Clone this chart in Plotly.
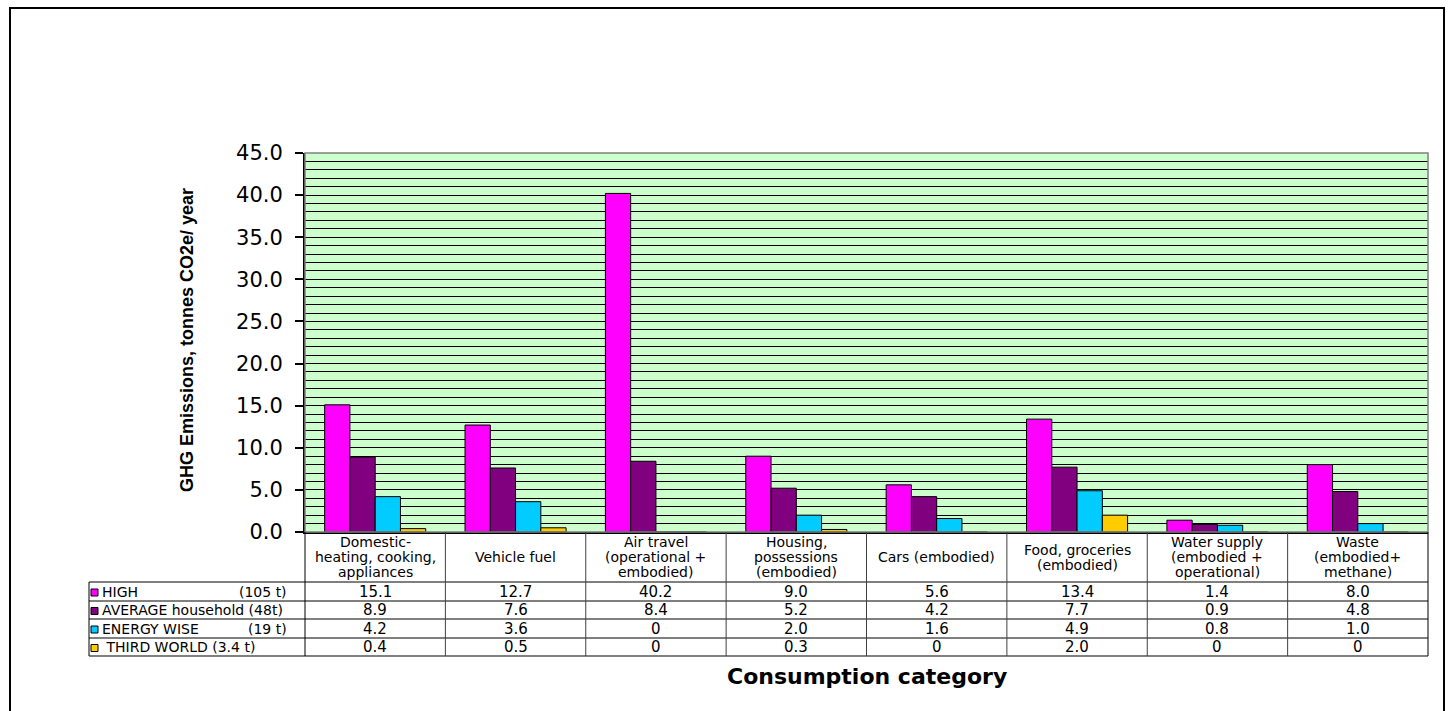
import plotly.graph_objects as go

# ---------------- data ----------------
categories = [
    "Domestic-heating, cooking, appliances",
    "Vehicle fuel",
    "Air travel (operational + embodied)",
    "Housing, possessions (embodied)",
    "Cars (embodied)",
    "Food, groceries (embodied)",
    "Water supply (embodied + operational)",
    "Waste (embodied+ methane)",
]
header_lines = [
    ["Domestic-", "heating, cooking,", "appliances"],
    ["Vehicle fuel"],
    ["Air travel", "(operational +", "embodied)"],
    ["Housing,", "possessions", "(embodied)"],
    ["Cars (embodied)"],
    ["Food, groceries", "(embodied)"],
    ["Water supply", "(embodied +", "operational)"],
    ["Waste", "(embodied+", "methane)"],
]
high = [15.1, 12.7, 40.2, 9.0, 5.6, 13.4, 1.4, 8.0]
average = [8.9, 7.6, 8.4, 5.2, 4.2, 7.7, 0.9, 4.8]
energy_wise = [4.2, 3.6, 0, 2.0, 1.6, 4.9, 0.8, 1.0]
third_world = [0.4, 0.5, 0, 0.3, 0, 2.0, 0, 0]

series_values = [high, average, energy_wise, third_world]
series_names = ["HIGH", "AVERAGE household (48t)", "ENERGY WISE", " THIRD WORLD (3.4 t)"]
series_notes = ["(105 t)", "", "(19 t)", ""]
series_colors = ["#FF00FF", "#800080", "#00CCFF", "#FFCC00"]

y_tickvals = [0, 5, 10, 15, 20, 25, 30, 35, 40, 45]
y_title = "GHG Emissions, tonnes CO2e/ year"
x_title = "Consumption category"

# ---------------- geometry helpers ----------------
W, H = 1450, 711
L, R, T, B = 305, 1428, 153, 532
PW, PH = R - L, B - T


def px(x):
    return (x - L) / PW


def py(y):
    return (B - y) / PH


TABLE_FONT = "DejaVu Sans"
HEADER_SIZE = 14
VALUE_SIZE = 15

fig = go.Figure()
for name, vals, col in zip(series_names, series_values, series_colors):
    fig.add_trace(go.Bar(
        x=categories, y=vals, name=name.strip(),
        marker=dict(color=col, line=dict(color="black", width=1)),
        showlegend=False,
    ))

shapes = []
annotations = []

# outer frame
shapes.append(dict(type="rect", xref="paper", yref="paper",
                   x0=px(10), x1=px(1444), y0=py(725), y1=py(8),
                   line=dict(color="black", width=2), fillcolor="rgba(0,0,0,0)", layer="above"))
# plot-area border (top/right grey)
shapes.append(dict(type="rect", xref="paper", yref="paper",
                   x0=0, x1=1, y0=0, y1=1,
                   line=dict(color="#808080", width=1.5), fillcolor="rgba(0,0,0,0)", layer="above"))

# table structure
row_lines = [582, 601, 619, 638, 656]
row_centers = [(row_lines[i] + row_lines[i + 1]) / 2 for i in range(4)]
for yl in row_lines:
    shapes.append(dict(type="line", xref="paper", yref="paper",
                       x0=px(89), x1=1, y0=py(yl), y1=py(yl),
                       line=dict(color="black", width=1)))
# left legend column border
shapes.append(dict(type="line", xref="paper", yref="paper",
                   x0=px(89), x1=px(89), y0=py(582), y1=py(656),
                   line=dict(color="black", width=1)))
# column boundaries
shapes.append(dict(type="line", xref="paper", yref="paper",
                   x0=0, x1=0, y0=py(532), y1=py(656),
                   line=dict(color="black", width=1)))
shapes.append(dict(type="line", xref="paper", yref="paper",
                   x0=1, x1=1, y0=py(532), y1=py(656),
                   line=dict(color="black", width=1)))
for i in range(1, len(categories)):
    shapes.append(dict(type="line", xref="x", yref="paper",
                       x0=i - 0.5, x1=i - 0.5, y0=py(532), y1=py(656),
                       line=dict(color="#404040", width=1)))

# header labels
line_gap = 15
for i, lines in enumerate(header_lines):
    n = len(lines)
    for k, t in enumerate(lines):
        yc = 557 + (k - (n - 1) / 2) * line_gap
        annotations.append(dict(xref="x", yref="paper", x=categories[i], y=py(yc),
                                text=t, showarrow=False, xanchor="center", yanchor="middle",
                                font=dict(family=TABLE_FONT, size=HEADER_SIZE, color="black")))

# value rows
for r, vals in enumerate(series_values):
    for i, v in enumerate(vals):
        txt = "0" if v == 0 else f"{v:.1f}"
        annotations.append(dict(xref="x", yref="paper", x=categories[i], y=py(row_centers[r]),
                                text=txt, showarrow=False, xanchor="center", yanchor="middle",
                                font=dict(family=TABLE_FONT, size=VALUE_SIZE, color="black")))
    # legend key
    yc = row_centers[r] + 1
    shapes.append(dict(type="rect", xref="paper", yref="paper",
                       x0=px(91), x1=px(98), y0=py(yc + 3.5), y1=py(yc - 3.5),
                       fillcolor=series_colors[r], line=dict(color="black", width=1)))
    annotations.append(dict(xref="paper", yref="paper", x=px(100), y=py(row_centers[r]),
                            text=series_names[r].replace(" ", "\u00a0"), showarrow=False,
                            xanchor="left", yanchor="middle",
                            font=dict(family=TABLE_FONT, size=14, color="black")))
    if series_notes[r]:
        annotations.append(dict(xref="paper", yref="paper", x=px(289), y=py(row_centers[r]),
                                text=series_notes[r], showarrow=False,
                                xanchor="right", yanchor="middle",
                                font=dict(family=TABLE_FONT, size=14, color="black")))

# axis titles
annotations.append(dict(xref="paper", yref="paper", x=px(187), y=py(340),
                        text="<b>" + y_title + "</b>", textangle=-90, showarrow=False,
                        xanchor="center", yanchor="middle",
                        font=dict(family="Liberation Sans, Arial", size=18, color="black")))
annotations.append(dict(xref="paper", yref="paper", x=px(867), y=py(676),
                        text="<b>" + x_title + "</b>", showarrow=False,
                        xanchor="center", yanchor="middle",
                        font=dict(family=TABLE_FONT, size=22, color="black")))

fig.update_layout(
    width=W, height=H, autosize=False,
    margin=dict(l=L, r=W - R, t=T, b=H - B, pad=0),
    paper_bgcolor="white", plot_bgcolor="#CCFFCC",
    barmode="group", bargap=0.28, bargroupgap=0,
    shapes=shapes, annotations=annotations,
    xaxis=dict(type="category", range=[-0.5, len(categories) - 0.5],
               showticklabels=False, ticks="", showgrid=False,
               showline=True, linecolor="black", linewidth=1.5, zeroline=False),
    yaxis=dict(range=[0, 45], tickvals=y_tickvals, tickformat=".1f",
               ticks="outside", ticklen=8, tickwidth=1.5, tickcolor="black",
               ticklabelstandoff=8,
               tickfont=dict(family=TABLE_FONT, size=21, color="black"),
               showline=True, linecolor="black", linewidth=2,
               showgrid=True, gridcolor="black", gridwidth=1,
               minor=dict(dtick=1, showgrid=True, gridcolor="black", gridwidth=1, ticks=""),
               zeroline=False),
)

fig.write_html("out.html")
